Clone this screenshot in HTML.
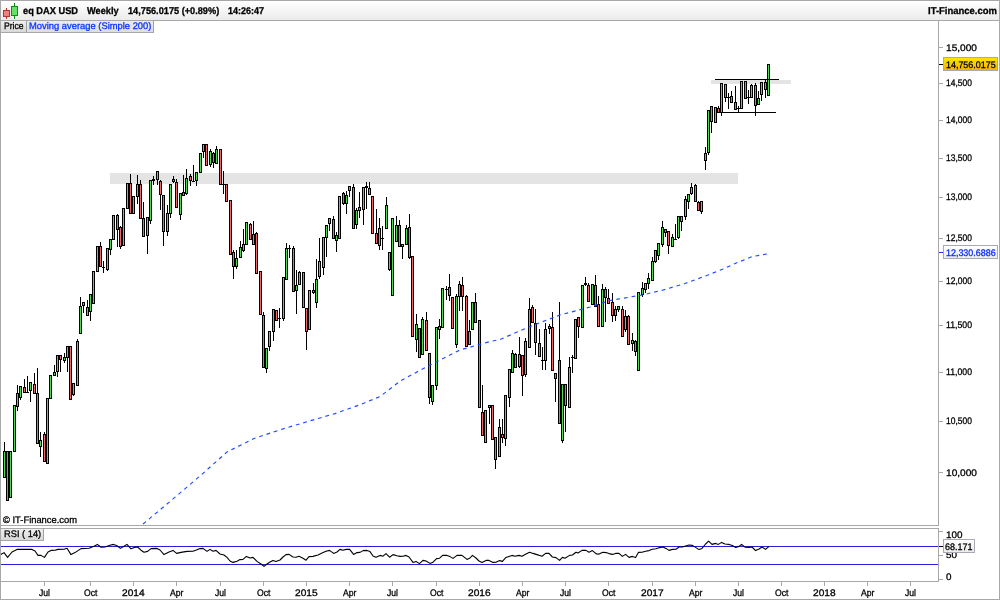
<!DOCTYPE html>
<html><head><meta charset="utf-8"><title>DAX</title>
<style>
html,body{margin:0;padding:0;background:#fff;}
body{text-rendering:geometricPrecision;width:1000px;height:600px;overflow:hidden;position:relative;font-family:"Liberation Sans",sans-serif;font-size:10px;color:#000;}
#frame{position:absolute;left:0;top:0;width:1000px;height:600px;box-sizing:border-box;border:1px solid #a8a8a8;pointer-events:none;z-index:9;}
#hdr{position:absolute;left:1px;top:1px;width:998px;height:19px;background:linear-gradient(#ffffff 0%,#ebebeb 100%);}
.ht{position:absolute;top:3px;font-weight:bold;font-size:10.5px;line-height:13px;white-space:nowrap;letter-spacing:-0.1px;}
.tab{position:absolute;top:21px;height:11px;line-height:11px;font-size:10px;white-space:nowrap;box-sizing:content-box;border-bottom:1px solid #a8a8a8;border-right:1px solid #a0a0a0;}
svg{position:absolute;left:0;top:0;}
.t{-webkit-text-stroke:0.3px;z-index:1;position:absolute;white-space:nowrap;line-height:12px;height:12px;transform-origin:0 0;font-size:10px;}
#L{position:absolute;left:0;top:0;width:1000px;height:600px;will-change:transform;}
.yl{position:absolute;left:946px;line-height:12px;height:12px;white-space:nowrap;}
.xl{position:absolute;top:586px;width:41px;text-align:center;line-height:12px;white-space:nowrap;}
.box{z-index:2;position:absolute;left:943px;width:55px;height:14px;box-sizing:border-box;border:1px solid #a9a9b4;line-height:12px;white-space:nowrap;text-indent:2px;letter-spacing:-0.55px;}
</style></head><body>
<div id="hdr"></div>
<svg width="1000" height="600" viewBox="0 0 1000 600" shape-rendering="crispEdges">
<g id="icon">
<rect x="6" y="8" width="1" height="11" fill="#b03030"/><rect x="3.5" y="10.5" width="6" height="6" fill="#f08080" stroke="#c03030" stroke-width="1"/>
<rect x="14" y="3" width="1" height="16" fill="#109010"/><rect x="11.5" y="6.5" width="6" height="9" fill="#66e066" stroke="#109010" stroke-width="1"/>
</g>
<rect x="110" y="173" width="628" height="11" fill="#e4e4e4"/><rect x="711" y="80" width="80" height="4" fill="#e4e4e4"/><rect x="4" y="442" width="1" height="36" fill="#000"/><rect x="3" y="451" width="3" height="27" fill="#000"/><rect x="4" y="452" width="1" height="25" fill="#4fdc4f"/><rect x="7" y="451" width="1" height="50" fill="#000"/><rect x="6" y="451" width="3" height="50" fill="#000"/><rect x="7" y="452" width="1" height="48" fill="#ee6a6a"/><rect x="10" y="451" width="1" height="47" fill="#000"/><rect x="9" y="451" width="3" height="47" fill="#000"/><rect x="10" y="452" width="1" height="45" fill="#4fdc4f"/><rect x="14" y="405" width="1" height="47" fill="#000"/><rect x="13" y="405" width="3" height="47" fill="#000"/><rect x="14" y="406" width="1" height="45" fill="#4fdc4f"/><rect x="17" y="385" width="1" height="26" fill="#000"/><rect x="16" y="393" width="3" height="14" fill="#000"/><rect x="17" y="394" width="1" height="12" fill="#4fdc4f"/><rect x="20" y="386" width="1" height="14" fill="#000"/><rect x="19" y="386" width="3" height="12" fill="#000"/><rect x="20" y="387" width="1" height="10" fill="#4fdc4f"/><rect x="24" y="379" width="1" height="14" fill="#000"/><rect x="23" y="387" width="3" height="6" fill="#000"/><rect x="24" y="388" width="1" height="4" fill="#ee6a6a"/><rect x="27" y="376" width="1" height="17" fill="#000"/><rect x="26" y="392" width="3" height="1" fill="#000"/><rect x="30" y="382" width="1" height="20" fill="#000"/><rect x="29" y="382" width="3" height="9" fill="#000"/><rect x="30" y="383" width="1" height="7" fill="#4fdc4f"/><rect x="34" y="373" width="1" height="21" fill="#000"/><rect x="33" y="384" width="3" height="10" fill="#000"/><rect x="34" y="385" width="1" height="8" fill="#ee6a6a"/><rect x="37" y="368" width="1" height="76" fill="#000"/><rect x="36" y="393" width="3" height="51" fill="#000"/><rect x="37" y="394" width="1" height="49" fill="#ee6a6a"/><rect x="40" y="432" width="1" height="25" fill="#000"/><rect x="39" y="440" width="3" height="7" fill="#000"/><rect x="40" y="441" width="1" height="5" fill="#4fdc4f"/><rect x="44" y="432" width="1" height="30" fill="#000"/><rect x="43" y="434" width="3" height="28" fill="#000"/><rect x="44" y="435" width="1" height="26" fill="#ee6a6a"/><rect x="47" y="398" width="1" height="66" fill="#000"/><rect x="46" y="398" width="3" height="66" fill="#000"/><rect x="47" y="399" width="1" height="64" fill="#4fdc4f"/><rect x="50" y="375" width="1" height="24" fill="#000"/><rect x="49" y="375" width="3" height="24" fill="#000"/><rect x="50" y="376" width="1" height="22" fill="#4fdc4f"/><rect x="54" y="365" width="1" height="11" fill="#000"/><rect x="53" y="372" width="3" height="4" fill="#000"/><rect x="54" y="373" width="1" height="2" fill="#4fdc4f"/><rect x="57" y="355" width="1" height="22" fill="#000"/><rect x="56" y="355" width="3" height="17" fill="#000"/><rect x="57" y="356" width="1" height="15" fill="#4fdc4f"/><rect x="60" y="355" width="1" height="17" fill="#000"/><rect x="59" y="355" width="3" height="5" fill="#000"/><rect x="60" y="356" width="1" height="3" fill="#ee6a6a"/><rect x="64" y="353" width="1" height="10" fill="#000"/><rect x="63" y="357" width="3" height="4" fill="#000"/><rect x="64" y="358" width="1" height="2" fill="#4fdc4f"/><rect x="67" y="346" width="1" height="26" fill="#000"/><rect x="66" y="346" width="3" height="12" fill="#000"/><rect x="67" y="347" width="1" height="10" fill="#4fdc4f"/><rect x="70" y="346" width="1" height="54" fill="#000"/><rect x="69" y="346" width="3" height="54" fill="#000"/><rect x="70" y="347" width="1" height="52" fill="#ee6a6a"/><rect x="73" y="383" width="1" height="13" fill="#000"/><rect x="72" y="383" width="3" height="12" fill="#000"/><rect x="73" y="384" width="1" height="10" fill="#4fdc4f"/><rect x="77" y="339" width="1" height="47" fill="#000"/><rect x="76" y="341" width="3" height="45" fill="#000"/><rect x="77" y="342" width="1" height="43" fill="#4fdc4f"/><rect x="80" y="297" width="1" height="37" fill="#000"/><rect x="79" y="306" width="3" height="28" fill="#000"/><rect x="80" y="307" width="1" height="26" fill="#4fdc4f"/><rect x="83" y="302" width="1" height="11" fill="#000"/><rect x="82" y="302" width="3" height="4" fill="#000"/><rect x="83" y="303" width="1" height="2" fill="#ee6a6a"/><rect x="87" y="300" width="1" height="16" fill="#000"/><rect x="86" y="307" width="3" height="9" fill="#000"/><rect x="87" y="308" width="1" height="7" fill="#4fdc4f"/><rect x="90" y="294" width="1" height="27" fill="#000"/><rect x="89" y="294" width="3" height="18" fill="#000"/><rect x="90" y="295" width="1" height="16" fill="#4fdc4f"/><rect x="93" y="271" width="1" height="33" fill="#000"/><rect x="92" y="271" width="3" height="33" fill="#000"/><rect x="93" y="272" width="1" height="31" fill="#4fdc4f"/><rect x="97" y="246" width="1" height="26" fill="#000"/><rect x="96" y="246" width="3" height="26" fill="#000"/><rect x="97" y="247" width="1" height="24" fill="#4fdc4f"/><rect x="100" y="242" width="1" height="25" fill="#000"/><rect x="99" y="246" width="3" height="21" fill="#000"/><rect x="100" y="247" width="1" height="19" fill="#ee6a6a"/><rect x="103" y="261" width="1" height="12" fill="#000"/><rect x="102" y="267" width="3" height="1" fill="#000"/><rect x="107" y="248" width="1" height="23" fill="#000"/><rect x="106" y="248" width="3" height="22" fill="#000"/><rect x="107" y="249" width="1" height="20" fill="#4fdc4f"/><rect x="110" y="239" width="1" height="16" fill="#000"/><rect x="109" y="239" width="3" height="11" fill="#000"/><rect x="110" y="240" width="1" height="9" fill="#4fdc4f"/><rect x="113" y="215" width="1" height="25" fill="#000"/><rect x="112" y="215" width="3" height="25" fill="#000"/><rect x="113" y="216" width="1" height="23" fill="#4fdc4f"/><rect x="117" y="214" width="1" height="33" fill="#000"/><rect x="116" y="215" width="3" height="15" fill="#000"/><rect x="117" y="216" width="1" height="13" fill="#ee6a6a"/><rect x="120" y="226" width="1" height="23" fill="#000"/><rect x="119" y="227" width="3" height="20" fill="#000"/><rect x="120" y="228" width="1" height="18" fill="#ee6a6a"/><rect x="123" y="208" width="1" height="38" fill="#000"/><rect x="122" y="208" width="3" height="38" fill="#000"/><rect x="123" y="209" width="1" height="36" fill="#4fdc4f"/><rect x="127" y="183" width="1" height="26" fill="#000"/><rect x="126" y="183" width="3" height="26" fill="#000"/><rect x="127" y="184" width="1" height="24" fill="#4fdc4f"/><rect x="130" y="174" width="1" height="40" fill="#000"/><rect x="129" y="183" width="3" height="31" fill="#000"/><rect x="130" y="184" width="1" height="29" fill="#ee6a6a"/><rect x="133" y="196" width="1" height="18" fill="#000"/><rect x="132" y="196" width="3" height="18" fill="#000"/><rect x="133" y="197" width="1" height="16" fill="#4fdc4f"/><rect x="137" y="175" width="1" height="29" fill="#000"/><rect x="136" y="184" width="3" height="13" fill="#000"/><rect x="137" y="185" width="1" height="11" fill="#4fdc4f"/><rect x="140" y="180" width="1" height="39" fill="#000"/><rect x="139" y="184" width="3" height="35" fill="#000"/><rect x="140" y="185" width="1" height="33" fill="#ee6a6a"/><rect x="143" y="202" width="1" height="35" fill="#000"/><rect x="142" y="218" width="3" height="19" fill="#000"/><rect x="143" y="219" width="1" height="17" fill="#ee6a6a"/><rect x="147" y="217" width="1" height="37" fill="#000"/><rect x="146" y="217" width="3" height="19" fill="#000"/><rect x="147" y="218" width="1" height="17" fill="#4fdc4f"/><rect x="150" y="180" width="1" height="44" fill="#000"/><rect x="149" y="180" width="3" height="41" fill="#000"/><rect x="150" y="181" width="1" height="39" fill="#4fdc4f"/><rect x="153" y="176" width="1" height="9" fill="#000"/><rect x="152" y="179" width="3" height="2" fill="#000"/><rect x="157" y="171" width="1" height="14" fill="#000"/><rect x="156" y="171" width="3" height="9" fill="#000"/><rect x="157" y="172" width="1" height="7" fill="#4fdc4f"/><rect x="160" y="180" width="1" height="30" fill="#000"/><rect x="159" y="181" width="3" height="14" fill="#000"/><rect x="160" y="182" width="1" height="12" fill="#ee6a6a"/><rect x="163" y="195" width="1" height="51" fill="#000"/><rect x="162" y="195" width="3" height="37" fill="#000"/><rect x="163" y="196" width="1" height="35" fill="#ee6a6a"/><rect x="167" y="205" width="1" height="31" fill="#000"/><rect x="166" y="213" width="3" height="19" fill="#000"/><rect x="167" y="214" width="1" height="17" fill="#4fdc4f"/><rect x="170" y="184" width="1" height="34" fill="#000"/><rect x="169" y="184" width="3" height="30" fill="#000"/><rect x="170" y="185" width="1" height="28" fill="#4fdc4f"/><rect x="173" y="176" width="1" height="7" fill="#000"/><rect x="172" y="179" width="3" height="3" fill="#000"/><rect x="173" y="180" width="1" height="1" fill="#ee6a6a"/><rect x="176" y="179" width="1" height="29" fill="#000"/><rect x="175" y="182" width="3" height="26" fill="#000"/><rect x="176" y="183" width="1" height="24" fill="#ee6a6a"/><rect x="180" y="193" width="1" height="27" fill="#000"/><rect x="179" y="193" width="3" height="22" fill="#000"/><rect x="180" y="194" width="1" height="20" fill="#4fdc4f"/><rect x="183" y="175" width="1" height="21" fill="#000"/><rect x="182" y="192" width="3" height="4" fill="#000"/><rect x="183" y="193" width="1" height="2" fill="#ee6a6a"/><rect x="186" y="169" width="1" height="26" fill="#000"/><rect x="185" y="178" width="3" height="16" fill="#000"/><rect x="186" y="179" width="1" height="14" fill="#4fdc4f"/><rect x="190" y="174" width="1" height="12" fill="#000"/><rect x="189" y="176" width="3" height="5" fill="#000"/><rect x="190" y="177" width="1" height="3" fill="#ee6a6a"/><rect x="193" y="165" width="1" height="17" fill="#000"/><rect x="192" y="181" width="3" height="1" fill="#000"/><rect x="196" y="172" width="1" height="14" fill="#000"/><rect x="195" y="172" width="3" height="9" fill="#000"/><rect x="196" y="173" width="1" height="7" fill="#4fdc4f"/><rect x="200" y="153" width="1" height="20" fill="#000"/><rect x="199" y="153" width="3" height="20" fill="#000"/><rect x="200" y="154" width="1" height="18" fill="#4fdc4f"/><rect x="203" y="144" width="1" height="14" fill="#000"/><rect x="202" y="144" width="3" height="8" fill="#000"/><rect x="203" y="145" width="1" height="6" fill="#4fdc4f"/><rect x="206" y="144" width="1" height="22" fill="#000"/><rect x="205" y="144" width="3" height="22" fill="#000"/><rect x="206" y="145" width="1" height="20" fill="#ee6a6a"/><rect x="210" y="149" width="1" height="18" fill="#000"/><rect x="209" y="151" width="3" height="14" fill="#000"/><rect x="210" y="152" width="1" height="12" fill="#4fdc4f"/><rect x="213" y="152" width="1" height="16" fill="#000"/><rect x="212" y="153" width="3" height="10" fill="#000"/><rect x="213" y="154" width="1" height="8" fill="#ee6a6a"/><rect x="216" y="146" width="1" height="18" fill="#000"/><rect x="215" y="149" width="3" height="15" fill="#000"/><rect x="216" y="150" width="1" height="13" fill="#4fdc4f"/><rect x="220" y="149" width="1" height="36" fill="#000"/><rect x="219" y="149" width="3" height="36" fill="#000"/><rect x="220" y="150" width="1" height="34" fill="#ee6a6a"/><rect x="223" y="171" width="1" height="23" fill="#000"/><rect x="222" y="184" width="3" height="1" fill="#000"/><rect x="226" y="184" width="1" height="18" fill="#000"/><rect x="225" y="184" width="3" height="18" fill="#000"/><rect x="226" y="185" width="1" height="16" fill="#ee6a6a"/><rect x="230" y="200" width="1" height="55" fill="#000"/><rect x="229" y="200" width="3" height="55" fill="#000"/><rect x="230" y="201" width="1" height="53" fill="#ee6a6a"/><rect x="233" y="250" width="1" height="29" fill="#000"/><rect x="232" y="252" width="3" height="15" fill="#000"/><rect x="233" y="253" width="1" height="13" fill="#ee6a6a"/><rect x="236" y="250" width="1" height="19" fill="#000"/><rect x="235" y="258" width="3" height="9" fill="#000"/><rect x="236" y="259" width="1" height="7" fill="#4fdc4f"/><rect x="240" y="241" width="1" height="17" fill="#000"/><rect x="239" y="247" width="3" height="11" fill="#000"/><rect x="240" y="248" width="1" height="9" fill="#4fdc4f"/><rect x="243" y="229" width="1" height="23" fill="#000"/><rect x="242" y="244" width="3" height="7" fill="#000"/><rect x="243" y="245" width="1" height="5" fill="#4fdc4f"/><rect x="246" y="222" width="1" height="23" fill="#000"/><rect x="245" y="222" width="3" height="23" fill="#000"/><rect x="246" y="223" width="1" height="21" fill="#4fdc4f"/><rect x="250" y="223" width="1" height="17" fill="#000"/><rect x="249" y="224" width="3" height="16" fill="#000"/><rect x="250" y="225" width="1" height="14" fill="#ee6a6a"/><rect x="253" y="221" width="1" height="24" fill="#000"/><rect x="252" y="234" width="3" height="11" fill="#000"/><rect x="253" y="235" width="1" height="9" fill="#4fdc4f"/><rect x="256" y="232" width="1" height="42" fill="#000"/><rect x="255" y="233" width="3" height="41" fill="#000"/><rect x="256" y="234" width="1" height="39" fill="#ee6a6a"/><rect x="260" y="271" width="1" height="44" fill="#000"/><rect x="259" y="271" width="3" height="44" fill="#000"/><rect x="260" y="272" width="1" height="42" fill="#ee6a6a"/><rect x="263" y="312" width="1" height="56" fill="#000"/><rect x="262" y="315" width="3" height="53" fill="#000"/><rect x="263" y="316" width="1" height="51" fill="#ee6a6a"/><rect x="266" y="348" width="1" height="25" fill="#000"/><rect x="265" y="348" width="3" height="21" fill="#000"/><rect x="266" y="349" width="1" height="19" fill="#4fdc4f"/><rect x="269" y="331" width="1" height="20" fill="#000"/><rect x="268" y="331" width="3" height="16" fill="#000"/><rect x="269" y="332" width="1" height="14" fill="#4fdc4f"/><rect x="273" y="309" width="1" height="32" fill="#000"/><rect x="272" y="309" width="3" height="23" fill="#000"/><rect x="273" y="310" width="1" height="21" fill="#4fdc4f"/><rect x="276" y="310" width="1" height="11" fill="#000"/><rect x="275" y="310" width="3" height="11" fill="#000"/><rect x="276" y="311" width="1" height="9" fill="#ee6a6a"/><rect x="279" y="308" width="1" height="20" fill="#000"/><rect x="278" y="318" width="3" height="1" fill="#000"/><rect x="283" y="277" width="1" height="44" fill="#000"/><rect x="282" y="277" width="3" height="42" fill="#000"/><rect x="283" y="278" width="1" height="40" fill="#4fdc4f"/><rect x="286" y="243" width="1" height="37" fill="#000"/><rect x="285" y="248" width="3" height="32" fill="#000"/><rect x="286" y="249" width="1" height="30" fill="#4fdc4f"/><rect x="289" y="245" width="1" height="13" fill="#000"/><rect x="288" y="248" width="3" height="1" fill="#000"/><rect x="293" y="246" width="1" height="46" fill="#000"/><rect x="292" y="248" width="3" height="44" fill="#000"/><rect x="293" y="249" width="1" height="42" fill="#ee6a6a"/><rect x="296" y="270" width="1" height="44" fill="#000"/><rect x="295" y="285" width="3" height="6" fill="#000"/><rect x="296" y="286" width="1" height="4" fill="#4fdc4f"/><rect x="299" y="271" width="1" height="14" fill="#000"/><rect x="298" y="272" width="3" height="13" fill="#000"/><rect x="299" y="273" width="1" height="11" fill="#4fdc4f"/><rect x="303" y="272" width="1" height="36" fill="#000"/><rect x="302" y="272" width="3" height="36" fill="#000"/><rect x="303" y="273" width="1" height="34" fill="#ee6a6a"/><rect x="306" y="308" width="1" height="42" fill="#000"/><rect x="305" y="308" width="3" height="24" fill="#000"/><rect x="306" y="309" width="1" height="22" fill="#ee6a6a"/><rect x="309" y="290" width="1" height="40" fill="#000"/><rect x="308" y="290" width="3" height="40" fill="#000"/><rect x="309" y="291" width="1" height="38" fill="#4fdc4f"/><rect x="313" y="283" width="1" height="11" fill="#000"/><rect x="312" y="290" width="3" height="3" fill="#000"/><rect x="313" y="291" width="1" height="1" fill="#4fdc4f"/><rect x="316" y="259" width="1" height="49" fill="#000"/><rect x="315" y="279" width="3" height="24" fill="#000"/><rect x="316" y="280" width="1" height="22" fill="#4fdc4f"/><rect x="319" y="238" width="1" height="41" fill="#000"/><rect x="318" y="261" width="3" height="16" fill="#000"/><rect x="319" y="262" width="1" height="14" fill="#4fdc4f"/><rect x="323" y="237" width="1" height="38" fill="#000"/><rect x="322" y="237" width="3" height="31" fill="#000"/><rect x="323" y="238" width="1" height="29" fill="#4fdc4f"/><rect x="326" y="225" width="1" height="32" fill="#000"/><rect x="325" y="225" width="3" height="13" fill="#000"/><rect x="326" y="226" width="1" height="11" fill="#4fdc4f"/><rect x="329" y="218" width="1" height="13" fill="#000"/><rect x="328" y="218" width="3" height="6" fill="#000"/><rect x="329" y="219" width="1" height="4" fill="#4fdc4f"/><rect x="333" y="216" width="1" height="23" fill="#000"/><rect x="332" y="219" width="3" height="20" fill="#000"/><rect x="333" y="220" width="1" height="18" fill="#ee6a6a"/><rect x="336" y="232" width="1" height="20" fill="#000"/><rect x="335" y="235" width="3" height="6" fill="#000"/><rect x="336" y="236" width="1" height="4" fill="#4fdc4f"/><rect x="339" y="196" width="1" height="43" fill="#000"/><rect x="338" y="196" width="3" height="43" fill="#000"/><rect x="339" y="197" width="1" height="41" fill="#4fdc4f"/><rect x="343" y="192" width="1" height="13" fill="#000"/><rect x="342" y="193" width="3" height="11" fill="#000"/><rect x="343" y="194" width="1" height="9" fill="#ee6a6a"/><rect x="346" y="191" width="1" height="23" fill="#000"/><rect x="345" y="195" width="3" height="9" fill="#000"/><rect x="346" y="196" width="1" height="7" fill="#4fdc4f"/><rect x="349" y="186" width="1" height="11" fill="#000"/><rect x="348" y="186" width="3" height="5" fill="#000"/><rect x="349" y="187" width="1" height="3" fill="#4fdc4f"/><rect x="353" y="184" width="1" height="45" fill="#000"/><rect x="352" y="187" width="3" height="42" fill="#000"/><rect x="353" y="188" width="1" height="40" fill="#ee6a6a"/><rect x="356" y="208" width="1" height="21" fill="#000"/><rect x="355" y="210" width="3" height="15" fill="#000"/><rect x="356" y="211" width="1" height="13" fill="#4fdc4f"/><rect x="359" y="192" width="1" height="26" fill="#000"/><rect x="358" y="207" width="3" height="4" fill="#000"/><rect x="359" y="208" width="1" height="2" fill="#4fdc4f"/><rect x="363" y="187" width="1" height="38" fill="#000"/><rect x="362" y="187" width="3" height="23" fill="#000"/><rect x="363" y="188" width="1" height="21" fill="#4fdc4f"/><rect x="366" y="182" width="1" height="27" fill="#000"/><rect x="365" y="186" width="3" height="2" fill="#000"/><rect x="369" y="182" width="1" height="13" fill="#000"/><rect x="368" y="188" width="3" height="7" fill="#000"/><rect x="369" y="189" width="1" height="5" fill="#ee6a6a"/><rect x="372" y="196" width="1" height="38" fill="#000"/><rect x="371" y="196" width="3" height="38" fill="#000"/><rect x="372" y="197" width="1" height="36" fill="#ee6a6a"/><rect x="376" y="209" width="1" height="35" fill="#000"/><rect x="375" y="233" width="3" height="11" fill="#000"/><rect x="376" y="234" width="1" height="9" fill="#ee6a6a"/><rect x="379" y="218" width="1" height="32" fill="#000"/><rect x="378" y="228" width="3" height="18" fill="#000"/><rect x="379" y="229" width="1" height="16" fill="#4fdc4f"/><rect x="382" y="226" width="1" height="24" fill="#000"/><rect x="381" y="238" width="3" height="1" fill="#000"/><rect x="386" y="197" width="1" height="32" fill="#000"/><rect x="385" y="205" width="3" height="24" fill="#000"/><rect x="386" y="206" width="1" height="22" fill="#4fdc4f"/><rect x="389" y="252" width="1" height="19" fill="#000"/><rect x="388" y="252" width="3" height="18" fill="#000"/><rect x="389" y="253" width="1" height="16" fill="#4fdc4f"/><rect x="392" y="218" width="1" height="78" fill="#000"/><rect x="391" y="218" width="3" height="78" fill="#000"/><rect x="392" y="219" width="1" height="76" fill="#4fdc4f"/><rect x="396" y="216" width="1" height="26" fill="#000"/><rect x="395" y="225" width="3" height="17" fill="#000"/><rect x="396" y="226" width="1" height="15" fill="#4fdc4f"/><rect x="399" y="220" width="1" height="27" fill="#000"/><rect x="398" y="225" width="3" height="22" fill="#000"/><rect x="399" y="226" width="1" height="20" fill="#ee6a6a"/><rect x="402" y="244" width="1" height="15" fill="#000"/><rect x="401" y="244" width="3" height="3" fill="#000"/><rect x="402" y="245" width="1" height="1" fill="#4fdc4f"/><rect x="406" y="225" width="1" height="20" fill="#000"/><rect x="405" y="228" width="3" height="17" fill="#000"/><rect x="406" y="229" width="1" height="15" fill="#4fdc4f"/><rect x="409" y="214" width="1" height="45" fill="#000"/><rect x="408" y="227" width="3" height="31" fill="#000"/><rect x="409" y="228" width="1" height="29" fill="#ee6a6a"/><rect x="412" y="256" width="1" height="81" fill="#000"/><rect x="411" y="256" width="3" height="81" fill="#000"/><rect x="412" y="257" width="1" height="79" fill="#ee6a6a"/><rect x="416" y="314" width="1" height="38" fill="#000"/><rect x="415" y="324" width="3" height="16" fill="#000"/><rect x="416" y="325" width="1" height="14" fill="#4fdc4f"/><rect x="419" y="328" width="1" height="30" fill="#000"/><rect x="418" y="328" width="3" height="30" fill="#000"/><rect x="419" y="329" width="1" height="28" fill="#ee6a6a"/><rect x="422" y="317" width="1" height="38" fill="#000"/><rect x="421" y="319" width="3" height="36" fill="#000"/><rect x="422" y="320" width="1" height="34" fill="#4fdc4f"/><rect x="426" y="312" width="1" height="39" fill="#000"/><rect x="425" y="320" width="3" height="31" fill="#000"/><rect x="426" y="321" width="1" height="29" fill="#ee6a6a"/><rect x="429" y="353" width="1" height="51" fill="#000"/><rect x="428" y="353" width="3" height="45" fill="#000"/><rect x="429" y="354" width="1" height="43" fill="#ee6a6a"/><rect x="432" y="385" width="1" height="20" fill="#000"/><rect x="431" y="385" width="3" height="17" fill="#000"/><rect x="432" y="386" width="1" height="15" fill="#4fdc4f"/><rect x="436" y="327" width="1" height="63" fill="#000"/><rect x="435" y="327" width="3" height="59" fill="#000"/><rect x="436" y="328" width="1" height="57" fill="#4fdc4f"/><rect x="439" y="319" width="1" height="20" fill="#000"/><rect x="438" y="326" width="3" height="4" fill="#000"/><rect x="439" y="327" width="1" height="2" fill="#4fdc4f"/><rect x="442" y="288" width="1" height="40" fill="#000"/><rect x="441" y="288" width="3" height="40" fill="#000"/><rect x="442" y="289" width="1" height="38" fill="#4fdc4f"/><rect x="446" y="286" width="1" height="14" fill="#000"/><rect x="445" y="289" width="3" height="1" fill="#000"/><rect x="449" y="274" width="1" height="27" fill="#000"/><rect x="448" y="287" width="3" height="9" fill="#000"/><rect x="449" y="288" width="1" height="7" fill="#ee6a6a"/><rect x="452" y="297" width="1" height="32" fill="#000"/><rect x="451" y="297" width="3" height="32" fill="#000"/><rect x="452" y="298" width="1" height="30" fill="#ee6a6a"/><rect x="456" y="294" width="1" height="54" fill="#000"/><rect x="455" y="296" width="3" height="49" fill="#000"/><rect x="456" y="297" width="1" height="47" fill="#4fdc4f"/><rect x="459" y="281" width="1" height="30" fill="#000"/><rect x="458" y="284" width="3" height="13" fill="#000"/><rect x="459" y="285" width="1" height="11" fill="#4fdc4f"/><rect x="462" y="277" width="1" height="34" fill="#000"/><rect x="461" y="285" width="3" height="12" fill="#000"/><rect x="462" y="286" width="1" height="10" fill="#ee6a6a"/><rect x="466" y="295" width="1" height="52" fill="#000"/><rect x="465" y="296" width="3" height="51" fill="#000"/><rect x="466" y="297" width="1" height="49" fill="#ee6a6a"/><rect x="469" y="320" width="1" height="25" fill="#000"/><rect x="468" y="331" width="3" height="14" fill="#000"/><rect x="469" y="332" width="1" height="12" fill="#4fdc4f"/><rect x="472" y="302" width="1" height="28" fill="#000"/><rect x="471" y="302" width="3" height="28" fill="#000"/><rect x="472" y="303" width="1" height="26" fill="#4fdc4f"/><rect x="475" y="293" width="1" height="30" fill="#000"/><rect x="474" y="302" width="3" height="21" fill="#000"/><rect x="475" y="303" width="1" height="19" fill="#ee6a6a"/><rect x="479" y="320" width="1" height="88" fill="#000"/><rect x="478" y="320" width="3" height="88" fill="#000"/><rect x="479" y="321" width="1" height="86" fill="#ee6a6a"/><rect x="482" y="385" width="1" height="51" fill="#000"/><rect x="481" y="412" width="3" height="24" fill="#000"/><rect x="482" y="413" width="1" height="22" fill="#ee6a6a"/><rect x="485" y="410" width="1" height="33" fill="#000"/><rect x="484" y="410" width="3" height="33" fill="#000"/><rect x="485" y="411" width="1" height="31" fill="#4fdc4f"/><rect x="489" y="405" width="1" height="19" fill="#000"/><rect x="488" y="405" width="3" height="3" fill="#000"/><rect x="489" y="406" width="1" height="1" fill="#4fdc4f"/><rect x="492" y="405" width="1" height="35" fill="#000"/><rect x="491" y="405" width="3" height="35" fill="#000"/><rect x="492" y="406" width="1" height="33" fill="#ee6a6a"/><rect x="495" y="437" width="1" height="32" fill="#000"/><rect x="494" y="437" width="3" height="23" fill="#000"/><rect x="495" y="438" width="1" height="21" fill="#ee6a6a"/><rect x="499" y="419" width="1" height="38" fill="#000"/><rect x="498" y="427" width="3" height="30" fill="#000"/><rect x="499" y="428" width="1" height="28" fill="#4fdc4f"/><rect x="502" y="419" width="1" height="24" fill="#000"/><rect x="501" y="434" width="3" height="4" fill="#000"/><rect x="502" y="435" width="1" height="2" fill="#ee6a6a"/><rect x="505" y="395" width="1" height="51" fill="#000"/><rect x="504" y="395" width="3" height="44" fill="#000"/><rect x="505" y="396" width="1" height="42" fill="#4fdc4f"/><rect x="509" y="369" width="1" height="38" fill="#000"/><rect x="508" y="369" width="3" height="29" fill="#000"/><rect x="509" y="370" width="1" height="27" fill="#4fdc4f"/><rect x="512" y="350" width="1" height="23" fill="#000"/><rect x="511" y="353" width="3" height="20" fill="#000"/><rect x="512" y="354" width="1" height="18" fill="#4fdc4f"/><rect x="515" y="353" width="1" height="15" fill="#000"/><rect x="514" y="354" width="3" height="14" fill="#000"/><rect x="515" y="355" width="1" height="12" fill="#ee6a6a"/><rect x="519" y="337" width="1" height="31" fill="#000"/><rect x="518" y="354" width="3" height="13" fill="#000"/><rect x="519" y="355" width="1" height="11" fill="#4fdc4f"/><rect x="522" y="355" width="1" height="41" fill="#000"/><rect x="521" y="355" width="3" height="21" fill="#000"/><rect x="522" y="356" width="1" height="19" fill="#ee6a6a"/><rect x="525" y="338" width="1" height="39" fill="#000"/><rect x="524" y="341" width="3" height="34" fill="#000"/><rect x="525" y="342" width="1" height="32" fill="#4fdc4f"/><rect x="529" y="298" width="1" height="50" fill="#000"/><rect x="528" y="309" width="3" height="39" fill="#000"/><rect x="529" y="310" width="1" height="37" fill="#4fdc4f"/><rect x="532" y="305" width="1" height="18" fill="#000"/><rect x="531" y="307" width="3" height="16" fill="#000"/><rect x="532" y="308" width="1" height="14" fill="#ee6a6a"/><rect x="535" y="309" width="1" height="46" fill="#000"/><rect x="534" y="323" width="3" height="20" fill="#000"/><rect x="535" y="324" width="1" height="18" fill="#ee6a6a"/><rect x="539" y="329" width="1" height="28" fill="#000"/><rect x="538" y="343" width="3" height="14" fill="#000"/><rect x="539" y="344" width="1" height="12" fill="#ee6a6a"/><rect x="542" y="347" width="1" height="23" fill="#000"/><rect x="541" y="360" width="3" height="1" fill="#000"/><rect x="545" y="323" width="1" height="47" fill="#000"/><rect x="544" y="329" width="3" height="32" fill="#000"/><rect x="545" y="330" width="1" height="30" fill="#4fdc4f"/><rect x="549" y="324" width="1" height="10" fill="#000"/><rect x="548" y="326" width="3" height="3" fill="#000"/><rect x="549" y="327" width="1" height="1" fill="#4fdc4f"/><rect x="552" y="312" width="1" height="59" fill="#000"/><rect x="551" y="327" width="3" height="44" fill="#000"/><rect x="552" y="328" width="1" height="42" fill="#ee6a6a"/><rect x="555" y="373" width="1" height="29" fill="#000"/><rect x="554" y="373" width="3" height="6" fill="#000"/><rect x="555" y="374" width="1" height="4" fill="#ee6a6a"/><rect x="559" y="302" width="1" height="122" fill="#000"/><rect x="558" y="360" width="3" height="64" fill="#000"/><rect x="559" y="361" width="1" height="62" fill="#ee6a6a"/><rect x="562" y="384" width="1" height="59" fill="#000"/><rect x="561" y="384" width="3" height="57" fill="#000"/><rect x="562" y="385" width="1" height="55" fill="#4fdc4f"/><rect x="565" y="384" width="1" height="48" fill="#000"/><rect x="564" y="384" width="3" height="22" fill="#000"/><rect x="565" y="385" width="1" height="20" fill="#ee6a6a"/><rect x="569" y="357" width="1" height="51" fill="#000"/><rect x="568" y="367" width="3" height="41" fill="#000"/><rect x="569" y="368" width="1" height="39" fill="#4fdc4f"/><rect x="572" y="355" width="1" height="18" fill="#000"/><rect x="571" y="357" width="3" height="1" fill="#000"/><rect x="575" y="319" width="1" height="40" fill="#000"/><rect x="574" y="319" width="3" height="40" fill="#000"/><rect x="575" y="320" width="1" height="38" fill="#4fdc4f"/><rect x="578" y="317" width="1" height="21" fill="#000"/><rect x="577" y="317" width="3" height="10" fill="#000"/><rect x="578" y="318" width="1" height="8" fill="#ee6a6a"/><rect x="582" y="285" width="1" height="43" fill="#000"/><rect x="581" y="285" width="3" height="43" fill="#000"/><rect x="582" y="286" width="1" height="41" fill="#4fdc4f"/><rect x="585" y="277" width="1" height="9" fill="#000"/><rect x="584" y="283" width="3" height="2" fill="#000"/><rect x="588" y="283" width="1" height="19" fill="#000"/><rect x="587" y="285" width="3" height="17" fill="#000"/><rect x="588" y="286" width="1" height="15" fill="#ee6a6a"/><rect x="592" y="284" width="1" height="21" fill="#000"/><rect x="591" y="284" width="3" height="21" fill="#000"/><rect x="592" y="285" width="1" height="19" fill="#4fdc4f"/><rect x="595" y="275" width="1" height="32" fill="#000"/><rect x="594" y="285" width="3" height="22" fill="#000"/><rect x="595" y="286" width="1" height="20" fill="#ee6a6a"/><rect x="598" y="296" width="1" height="31" fill="#000"/><rect x="597" y="304" width="3" height="23" fill="#000"/><rect x="598" y="305" width="1" height="21" fill="#ee6a6a"/><rect x="602" y="284" width="1" height="43" fill="#000"/><rect x="601" y="289" width="3" height="38" fill="#000"/><rect x="602" y="290" width="1" height="36" fill="#4fdc4f"/><rect x="605" y="287" width="1" height="35" fill="#000"/><rect x="604" y="289" width="3" height="9" fill="#000"/><rect x="605" y="290" width="1" height="7" fill="#ee6a6a"/><rect x="608" y="289" width="1" height="15" fill="#000"/><rect x="607" y="298" width="3" height="6" fill="#000"/><rect x="608" y="299" width="1" height="4" fill="#ee6a6a"/><rect x="612" y="293" width="1" height="29" fill="#000"/><rect x="611" y="302" width="3" height="14" fill="#000"/><rect x="612" y="303" width="1" height="12" fill="#ee6a6a"/><rect x="615" y="306" width="1" height="15" fill="#000"/><rect x="614" y="309" width="3" height="7" fill="#000"/><rect x="615" y="310" width="1" height="5" fill="#4fdc4f"/><rect x="618" y="306" width="1" height="6" fill="#000"/><rect x="617" y="306" width="3" height="4" fill="#000"/><rect x="618" y="307" width="1" height="2" fill="#4fdc4f"/><rect x="622" y="306" width="1" height="31" fill="#000"/><rect x="621" y="309" width="3" height="28" fill="#000"/><rect x="622" y="310" width="1" height="26" fill="#ee6a6a"/><rect x="625" y="310" width="1" height="22" fill="#000"/><rect x="624" y="316" width="3" height="14" fill="#000"/><rect x="625" y="317" width="1" height="12" fill="#4fdc4f"/><rect x="628" y="315" width="1" height="30" fill="#000"/><rect x="627" y="316" width="3" height="29" fill="#000"/><rect x="628" y="317" width="1" height="27" fill="#ee6a6a"/><rect x="632" y="333" width="1" height="18" fill="#000"/><rect x="631" y="340" width="3" height="4" fill="#000"/><rect x="632" y="341" width="1" height="2" fill="#4fdc4f"/><rect x="635" y="340" width="1" height="16" fill="#000"/><rect x="634" y="341" width="3" height="11" fill="#000"/><rect x="635" y="342" width="1" height="9" fill="#ee6a6a"/><rect x="638" y="292" width="1" height="79" fill="#000"/><rect x="637" y="292" width="3" height="79" fill="#000"/><rect x="638" y="293" width="1" height="77" fill="#4fdc4f"/><rect x="642" y="282" width="1" height="15" fill="#000"/><rect x="641" y="288" width="3" height="7" fill="#000"/><rect x="642" y="289" width="1" height="5" fill="#4fdc4f"/><rect x="645" y="283" width="1" height="10" fill="#000"/><rect x="644" y="283" width="3" height="7" fill="#000"/><rect x="645" y="284" width="1" height="5" fill="#4fdc4f"/><rect x="648" y="273" width="1" height="16" fill="#000"/><rect x="647" y="278" width="3" height="6" fill="#000"/><rect x="648" y="279" width="1" height="4" fill="#4fdc4f"/><rect x="652" y="257" width="1" height="24" fill="#000"/><rect x="651" y="261" width="3" height="20" fill="#000"/><rect x="652" y="262" width="1" height="18" fill="#4fdc4f"/><rect x="655" y="250" width="1" height="13" fill="#000"/><rect x="654" y="250" width="3" height="12" fill="#000"/><rect x="655" y="251" width="1" height="10" fill="#4fdc4f"/><rect x="658" y="243" width="1" height="17" fill="#000"/><rect x="657" y="243" width="3" height="13" fill="#000"/><rect x="658" y="244" width="1" height="11" fill="#4fdc4f"/><rect x="662" y="221" width="1" height="26" fill="#000"/><rect x="661" y="227" width="3" height="18" fill="#000"/><rect x="662" y="228" width="1" height="16" fill="#4fdc4f"/><rect x="665" y="229" width="1" height="8" fill="#000"/><rect x="664" y="229" width="3" height="4" fill="#000"/><rect x="665" y="230" width="1" height="2" fill="#ee6a6a"/><rect x="668" y="231" width="1" height="23" fill="#000"/><rect x="667" y="231" width="3" height="15" fill="#000"/><rect x="668" y="232" width="1" height="13" fill="#ee6a6a"/><rect x="672" y="234" width="1" height="13" fill="#000"/><rect x="671" y="237" width="3" height="10" fill="#000"/><rect x="672" y="238" width="1" height="8" fill="#4fdc4f"/><rect x="675" y="224" width="1" height="16" fill="#000"/><rect x="674" y="239" width="3" height="1" fill="#000"/><rect x="678" y="216" width="1" height="23" fill="#000"/><rect x="677" y="216" width="3" height="22" fill="#000"/><rect x="678" y="217" width="1" height="20" fill="#4fdc4f"/><rect x="681" y="216" width="1" height="15" fill="#000"/><rect x="680" y="216" width="3" height="6" fill="#000"/><rect x="681" y="217" width="1" height="4" fill="#4fdc4f"/><rect x="685" y="196" width="1" height="24" fill="#000"/><rect x="684" y="199" width="3" height="18" fill="#000"/><rect x="685" y="200" width="1" height="16" fill="#4fdc4f"/><rect x="688" y="194" width="1" height="15" fill="#000"/><rect x="687" y="194" width="3" height="8" fill="#000"/><rect x="688" y="195" width="1" height="6" fill="#4fdc4f"/><rect x="691" y="183" width="1" height="12" fill="#000"/><rect x="690" y="187" width="3" height="7" fill="#000"/><rect x="691" y="188" width="1" height="5" fill="#4fdc4f"/><rect x="695" y="184" width="1" height="18" fill="#000"/><rect x="694" y="185" width="3" height="17" fill="#000"/><rect x="695" y="186" width="1" height="15" fill="#ee6a6a"/><rect x="698" y="201" width="1" height="10" fill="#000"/><rect x="697" y="202" width="3" height="9" fill="#000"/><rect x="698" y="203" width="1" height="7" fill="#ee6a6a"/><rect x="701" y="201" width="1" height="13" fill="#000"/><rect x="700" y="201" width="3" height="11" fill="#000"/><rect x="701" y="202" width="1" height="9" fill="#4fdc4f"/><rect x="705" y="147" width="1" height="23" fill="#000"/><rect x="704" y="153" width="3" height="8" fill="#000"/><rect x="705" y="154" width="1" height="6" fill="#4fdc4f"/><rect x="708" y="110" width="1" height="45" fill="#000"/><rect x="707" y="110" width="3" height="43" fill="#000"/><rect x="708" y="111" width="1" height="41" fill="#4fdc4f"/><rect x="711" y="106" width="1" height="27" fill="#000"/><rect x="710" y="106" width="3" height="16" fill="#000"/><rect x="711" y="107" width="1" height="14" fill="#ee6a6a"/><rect x="715" y="107" width="1" height="16" fill="#000"/><rect x="714" y="107" width="3" height="16" fill="#000"/><rect x="715" y="108" width="1" height="14" fill="#4fdc4f"/><rect x="718" y="106" width="1" height="7" fill="#000"/><rect x="717" y="108" width="3" height="5" fill="#000"/><rect x="718" y="109" width="1" height="3" fill="#ee6a6a"/><rect x="721" y="83" width="1" height="33" fill="#000"/><rect x="720" y="83" width="3" height="30" fill="#000"/><rect x="721" y="84" width="1" height="28" fill="#4fdc4f"/><rect x="725" y="84" width="1" height="18" fill="#000"/><rect x="724" y="84" width="3" height="14" fill="#000"/><rect x="725" y="85" width="1" height="12" fill="#ee6a6a"/><rect x="728" y="93" width="1" height="16" fill="#000"/><rect x="727" y="97" width="3" height="1" fill="#000"/><rect x="731" y="91" width="1" height="12" fill="#000"/><rect x="730" y="96" width="3" height="7" fill="#000"/><rect x="731" y="97" width="1" height="5" fill="#ee6a6a"/><rect x="735" y="86" width="1" height="24" fill="#000"/><rect x="734" y="102" width="3" height="8" fill="#000"/><rect x="735" y="103" width="1" height="6" fill="#ee6a6a"/><rect x="738" y="106" width="1" height="6" fill="#000"/><rect x="737" y="108" width="3" height="1" fill="#000"/><rect x="741" y="81" width="1" height="28" fill="#000"/><rect x="740" y="81" width="3" height="28" fill="#000"/><rect x="741" y="82" width="1" height="26" fill="#4fdc4f"/><rect x="745" y="81" width="1" height="18" fill="#000"/><rect x="744" y="81" width="3" height="18" fill="#000"/><rect x="745" y="82" width="1" height="16" fill="#ee6a6a"/><rect x="748" y="90" width="1" height="14" fill="#000"/><rect x="747" y="97" width="3" height="1" fill="#000"/><rect x="751" y="84" width="1" height="14" fill="#000"/><rect x="750" y="85" width="3" height="13" fill="#000"/><rect x="751" y="86" width="1" height="11" fill="#4fdc4f"/><rect x="755" y="83" width="1" height="33" fill="#000"/><rect x="754" y="85" width="3" height="21" fill="#000"/><rect x="755" y="86" width="1" height="19" fill="#ee6a6a"/><rect x="758" y="91" width="1" height="14" fill="#000"/><rect x="757" y="98" width="3" height="7" fill="#000"/><rect x="758" y="99" width="1" height="5" fill="#4fdc4f"/><rect x="761" y="82" width="1" height="19" fill="#000"/><rect x="760" y="82" width="3" height="13" fill="#000"/><rect x="761" y="83" width="1" height="11" fill="#4fdc4f"/><rect x="765" y="80" width="1" height="18" fill="#000"/><rect x="764" y="82" width="3" height="8" fill="#000"/><rect x="765" y="83" width="1" height="6" fill="#ee6a6a"/><rect x="768" y="64" width="1" height="32" fill="#000"/><rect x="767" y="64" width="3" height="32" fill="#000"/><rect x="768" y="65" width="1" height="30" fill="#4fdc4f"/><polyline points="143.0,524.0 170.0,501.5 200.0,476.0 227.0,452.0 254.0,438.5 281.0,429.5 308.0,421.4 335.0,413.6 362.0,404.0 380.0,396.5 401.0,380.5 430.0,365.0 460.0,350.0 490.0,341.5 500.0,339.5 530.0,326.5 560.0,315.0 590.0,307.0 610.0,300.5 643.0,294.8 662.5,290.2 685.0,283.5 707.5,275.2 722.5,269.2 737.5,262.5 752.5,256.5 767.0,254.0" fill="none" stroke="#1f4cff" stroke-width="1.15" stroke-dasharray="3.8,3.9" shape-rendering="geometricPrecision"/><rect x="715" y="79" width="64" height="1" fill="#000"/><rect x="720" y="112" width="56" height="1" fill="#000"/><rect x="1" y="546" width="937" height="1" fill="#2222dd"/><rect x="1" y="564" width="937" height="1" fill="#2222dd"/><polyline points="0.0,555.0 4.0,552.6 7.6,557.4 12.0,552.0 17.0,549.4 32.0,549.4 35.0,551.0 38.0,555.4 41.0,555.4 44.4,557.4 48.0,552.0 51.0,550.4 55.0,550.2 58.0,549.4 64.0,549.2 67.0,548.2 71.0,554.6 75.0,552.6 81.0,548.6 89.0,548.2 94.0,546.2 97.4,544.4 101.0,547.2 105.0,547.0 110.0,545.2 113.6,544.4 117.0,545.8 120.4,548.4 124.0,546.2 127.0,544.4 131.0,548.8 134.4,547.4 137.6,547.0 141.0,550.2 144.0,552.2 147.6,551.4 151.0,548.6 157.0,548.4 160.0,550.0 164.0,554.6 169.0,552.0 173.0,550.4 176.6,553.4 181.0,552.4 187.0,551.4 193.0,551.2 197.0,549.8 200.0,548.6 203.0,548.4 207.0,551.4 210.0,549.4 213.0,551.2 216.0,550.4 220.0,554.0 224.0,555.0 227.0,557.4 230.0,561.0 233.0,562.4 237.0,561.2 240.0,559.6 243.0,559.4 246.4,556.4 250.0,558.0 253.0,557.4 257.0,561.4 261.0,564.0 264.0,566.4 267.0,564.0 270.0,562.0 273.0,560.4 276.0,561.4 280.0,560.0 283.0,557.0 286.0,554.6 289.0,554.4 293.0,557.0 296.0,557.2 299.0,556.2 303.0,558.2 306.0,560.2 309.0,556.6 313.0,556.4 318.0,555.0 322.0,553.0 326.0,551.2 329.6,550.4 333.6,553.4 337.0,552.0 340.0,549.4 343.0,550.2 346.0,549.4 349.6,549.4 353.6,554.4 357.0,552.6 360.0,552.4 363.0,550.6 367.0,550.4 370.0,551.6 373.0,556.0 376.0,557.2 380.0,555.4 383.0,556.2 386.0,553.6 389.6,557.2 393.0,554.6 397.0,555.8 400.0,556.4 403.0,556.2 406.0,555.4 409.0,557.0 413.0,562.4 416.0,561.4 419.4,563.6 423.0,560.4 426.0,561.0 430.0,563.4 433.0,562.2 436.6,558.6 439.6,558.2 442.6,555.4 447.0,555.4 450.0,556.6 453.0,558.4 457.0,555.4 462.0,555.4 467.0,559.4 470.0,558.0 472.4,555.4 476.0,558.0 479.0,561.0 482.0,562.4 486.0,560.4 489.0,560.4 493.0,562.4 496.0,562.2 499.6,560.6 502.4,561.4 506.0,557.4 509.0,556.4 512.0,555.4 515.0,556.2 519.0,555.4 522.0,556.2 526.0,554.0 529.6,552.2 533.0,553.4 537.0,554.6 542.0,556.2 545.6,553.4 549.0,553.4 552.4,557.0 556.0,557.6 559.6,560.4 562.4,557.4 565.0,558.2 569.6,555.4 572.4,555.0 576.0,552.2 578.0,553.0 582.0,550.4 586.0,550.4 589.0,552.2 592.4,550.6 596.0,553.6 598.0,554.2 600.0,553.6 603.0,552.2 606.0,552.6 609.0,553.6 612.4,554.4 615.6,553.4 619.0,553.4 622.4,556.4 625.6,554.4 629.0,557.4 632.4,556.4 635.6,557.4 638.4,552.4 642.0,552.2 645.6,551.2 649.0,550.6 652.4,549.2 656.0,548.8 659.6,547.6 663.0,547.0 666.0,548.4 669.0,550.4 672.4,549.4 676.0,549.2 679.0,547.0 682.4,547.0 685.6,546.0 689.0,545.0 692.4,545.4 695.6,547.4 699.0,549.6 702.0,548.4 705.6,544.0 708.6,541.2 712.0,544.4 715.6,543.4 718.4,544.4 721.6,542.4 725.0,544.0 729.0,544.4 732.4,545.6 735.6,547.4 739.0,546.4 741.6,544.4 745.0,547.2 749.0,547.4 752.0,547.0 755.6,550.6 759.0,549.0 762.0,547.0 765.6,549.4 769.0,546.4" fill="none" stroke="#000" stroke-width="1.1" stroke-linejoin="round" shape-rendering="geometricPrecision"/><rect x="0" y="20" width="1000" height="1" fill="#a8a8a8"/><rect x="938" y="21" width="1" height="505" fill="#a8a8a8"/><rect x="1" y="525" width="938" height="1" fill="#a8a8a8"/><rect x="1" y="528" width="938" height="1" fill="#a8a8a8"/><rect x="938" y="528" width="1" height="54" fill="#a8a8a8"/><rect x="1" y="581" width="938" height="1" fill="#a8a8a8"/><rect x="939" y="47" width="4" height="1" fill="#a8a8a8"/><rect x="939" y="83" width="4" height="1" fill="#a8a8a8"/><rect x="939" y="120" width="4" height="1" fill="#a8a8a8"/><rect x="939" y="158" width="4" height="1" fill="#a8a8a8"/><rect x="939" y="197" width="4" height="1" fill="#a8a8a8"/><rect x="939" y="238" width="4" height="1" fill="#a8a8a8"/><rect x="939" y="281" width="4" height="1" fill="#a8a8a8"/><rect x="939" y="325" width="4" height="1" fill="#a8a8a8"/><rect x="939" y="372" width="4" height="1" fill="#a8a8a8"/><rect x="939" y="421" width="4" height="1" fill="#a8a8a8"/><rect x="939" y="472" width="4" height="1" fill="#a8a8a8"/><rect x="939" y="531" width="4" height="1" fill="#a8a8a8"/><rect x="939" y="555" width="4" height="1" fill="#a8a8a8"/><rect x="939" y="579" width="4" height="1" fill="#a8a8a8"/><rect x="939" y="64" width="4" height="1" fill="#000"/><rect x="939" y="252" width="4" height="1" fill="#1133ff"/><rect x="939" y="546" width="4" height="1" fill="#000"/><rect x="44" y="582" width="1" height="4" fill="#a8a8a8"/><rect x="90" y="582" width="1" height="4" fill="#a8a8a8"/><rect x="133" y="582" width="1" height="4" fill="#a8a8a8"/><rect x="176" y="582" width="1" height="4" fill="#a8a8a8"/><rect x="220" y="582" width="1" height="4" fill="#a8a8a8"/><rect x="263" y="582" width="1" height="4" fill="#a8a8a8"/><rect x="306" y="582" width="1" height="4" fill="#a8a8a8"/><rect x="349" y="582" width="1" height="4" fill="#a8a8a8"/><rect x="392" y="582" width="1" height="4" fill="#a8a8a8"/><rect x="436" y="582" width="1" height="4" fill="#a8a8a8"/><rect x="479" y="582" width="1" height="4" fill="#a8a8a8"/><rect x="522" y="582" width="1" height="4" fill="#a8a8a8"/><rect x="565" y="582" width="1" height="4" fill="#a8a8a8"/><rect x="608" y="582" width="1" height="4" fill="#a8a8a8"/><rect x="652" y="582" width="1" height="4" fill="#a8a8a8"/><rect x="695" y="582" width="1" height="4" fill="#a8a8a8"/><rect x="738" y="582" width="1" height="4" fill="#a8a8a8"/><rect x="781" y="582" width="1" height="4" fill="#a8a8a8"/><rect x="824" y="582" width="1" height="4" fill="#a8a8a8"/><rect x="867" y="582" width="1" height="4" fill="#a8a8a8"/><rect x="910" y="582" width="1" height="4" fill="#a8a8a8"/>
</svg>
<div class="tab" style="left:1px;width:25px;background:linear-gradient(#f0f0f0,#d8d8d8);"></div>
<div class="tab" style="left:27px;width:126px;background:linear-gradient(#ececec,#dedede);"></div>
<div id="L">
<div class="box" style="top:57px;background:linear-gradient(#ffe400,#f2b400);"></div>
<div class="box" style="top:245px;background:linear-gradient(#ffffff,#ececec);"></div>
<div class="box" style="top:539px;width:32px;background:linear-gradient(#ffffff,#ececec);"></div>
<div class="tab" style="left:1px;top:529px;width:42px;background:linear-gradient(#f0f0f0,#d8d8d8);"></div>
<span class="t" style="left:3.60px;top:21px;font-size:9.5px;transform:scaleX(0.9051);">Price</span><span class="t" style="left:28.80px;top:21px;font-size:9.5px;transform:scaleX(0.9864);color:#0a34ff;">Moving average (Simple 200)</span><span class="t" style="left:946.00px;top:43px;font-size:9.5px;transform:scaleX(1.0667);">15,000</span><span class="t" style="left:946.00px;top:78px;font-size:9.5px;transform:scaleX(0.8946);">14,500</span><span class="t" style="left:946.00px;top:115px;font-size:9.5px;transform:scaleX(0.8946);">14,000</span><span class="t" style="left:946.00px;top:153px;font-size:9.5px;transform:scaleX(0.8946);">13,500</span><span class="t" style="left:946.00px;top:192px;font-size:9.5px;transform:scaleX(0.8946);">13,000</span><span class="t" style="left:946.00px;top:233px;font-size:9.5px;transform:scaleX(0.8946);">12,500</span><span class="t" style="left:946.00px;top:276px;font-size:9.5px;transform:scaleX(0.8946);">12,000</span><span class="t" style="left:946.00px;top:320px;font-size:9.5px;transform:scaleX(0.9168);">11,500</span><span class="t" style="left:946.00px;top:367px;font-size:9.5px;transform:scaleX(0.9168);">11,000</span><span class="t" style="left:946.00px;top:416px;font-size:9.5px;transform:scaleX(0.8946);">10,500</span><span class="t" style="left:946.00px;top:468px;font-size:9.5px;transform:scaleX(1.0667);">10,000</span><span class="t" style="left:945.50px;top:530px;font-size:9.5px;transform:scaleX(1.0404);">100</span><span class="t" style="left:945.50px;top:550px;font-size:9.5px;transform:scaleX(1.0399);">50</span><span class="t" style="left:945.50px;top:572px;font-size:9.5px;transform:scaleX(1.0383);">0</span><span class="t" style="left:39.00px;top:588px;font-size:9.5px;transform:scaleX(0.9049);">Jul</span><span class="t" style="left:83.80px;top:588px;font-size:9.5px;transform:scaleX(0.9066);">Oct</span><span class="t" style="left:122.20px;top:588px;font-size:9.5px;transform:scaleX(1.0690);">2014</span><span class="t" style="left:169.80px;top:588px;font-size:9.5px;transform:scaleX(0.9056);">Apr</span><span class="t" style="left:215.00px;top:588px;font-size:9.5px;transform:scaleX(0.9049);">Jul</span><span class="t" style="left:256.80px;top:588px;font-size:9.5px;transform:scaleX(0.9066);">Oct</span><span class="t" style="left:295.20px;top:588px;font-size:9.5px;transform:scaleX(1.0690);">2015</span><span class="t" style="left:342.80px;top:588px;font-size:9.5px;transform:scaleX(0.9056);">Apr</span><span class="t" style="left:387.00px;top:588px;font-size:9.5px;transform:scaleX(0.9049);">Jul</span><span class="t" style="left:429.80px;top:588px;font-size:9.5px;transform:scaleX(0.9066);">Oct</span><span class="t" style="left:468.20px;top:588px;font-size:9.5px;transform:scaleX(1.0690);">2016</span><span class="t" style="left:515.80px;top:588px;font-size:9.5px;transform:scaleX(0.9056);">Apr</span><span class="t" style="left:560.00px;top:588px;font-size:9.5px;transform:scaleX(0.9049);">Jul</span><span class="t" style="left:601.80px;top:588px;font-size:9.5px;transform:scaleX(0.9066);">Oct</span><span class="t" style="left:641.20px;top:588px;font-size:9.5px;transform:scaleX(1.0690);">2017</span><span class="t" style="left:688.80px;top:588px;font-size:9.5px;transform:scaleX(0.9056);">Apr</span><span class="t" style="left:733.00px;top:588px;font-size:9.5px;transform:scaleX(0.9049);">Jul</span><span class="t" style="left:774.80px;top:588px;font-size:9.5px;transform:scaleX(0.9066);">Oct</span><span class="t" style="left:813.20px;top:588px;font-size:9.5px;transform:scaleX(1.0690);">2018</span><span class="t" style="left:860.80px;top:588px;font-size:9.5px;transform:scaleX(0.9056);">Apr</span><span class="t" style="left:905.00px;top:588px;font-size:9.5px;transform:scaleX(0.9049);">Jul</span><span class="t" style="left:945.60px;top:60px;font-size:9.5px;transform:scaleX(0.9386);z-index:3;">14,756.0175</span><span class="t" style="left:945.60px;top:248px;font-size:9.5px;transform:scaleX(0.9386);color:#0a2cff;z-index:3;">12,330.6886</span><span class="t" style="left:944.50px;top:542px;font-size:9.5px;transform:scaleX(0.9462);z-index:3;">68.171</span><span class="t" style="left:3.00px;top:515px;font-size:9.5px;transform:scaleX(0.9852);">&copy; IT-Finance.com</span><span class="t" style="left:3.80px;top:529px;font-size:9.5px;transform:scaleX(0.9785);">RSI ( 14)</span>
</div>
<span class="t" style="left:23.00px;top:6px;font-size:9.8px;transform:scaleX(0.9442);font-weight:bold;">eq DAX USD</span><span class="t" style="left:87.00px;top:6px;font-size:9.8px;transform:scaleX(0.9407);font-weight:bold;">Weekly</span><span class="t" style="left:128.00px;top:6px;font-size:9.8px;transform:scaleX(0.9379);font-weight:bold;">14,756.0175 (+0.89%)</span><span class="t" style="left:228.00px;top:6px;font-size:9.8px;transform:scaleX(0.9179);font-weight:bold;">14:26:47</span><span class="t" style="left:928.00px;top:6px;font-size:9.8px;transform:scaleX(0.9674);font-weight:bold;">IT-Finance.com</span>
<div id="frame"></div>
</body></html>
